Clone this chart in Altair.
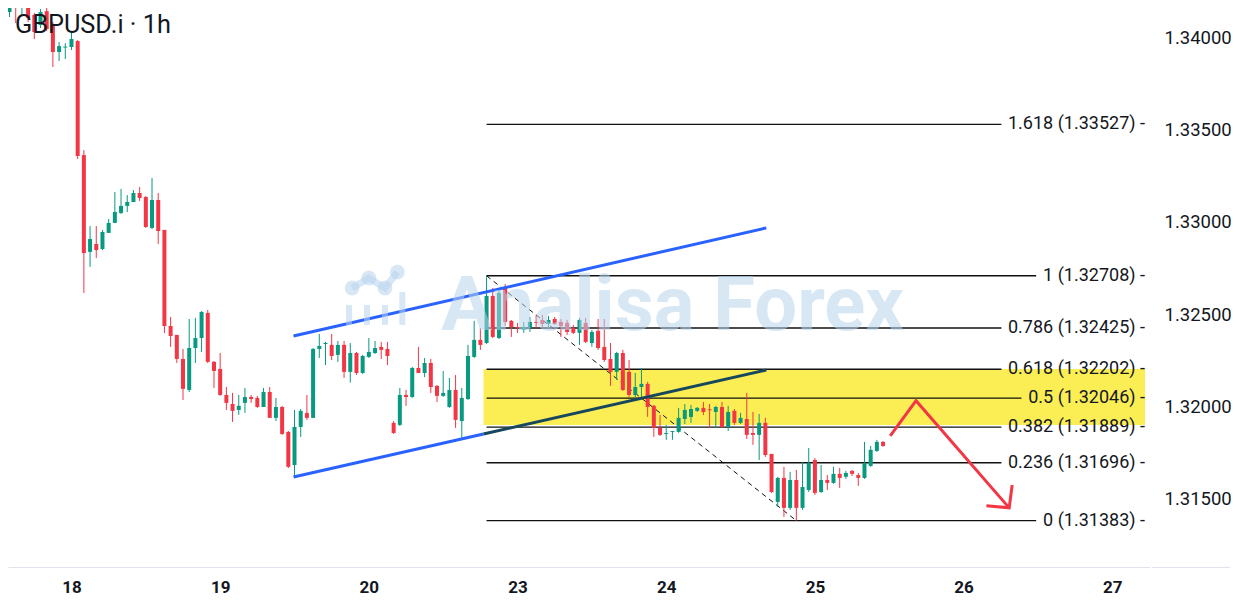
import altair as alt
import pandas as pd
import numpy as np

# ---------------- data ----------------
hours = list(range(-10, 132))  # hourly bar index, 0 = 18th 00:00 (weekend skipped)
opens = [1.34135, 1.34200, 1.34162, 1.34162, 1.34119, 1.34065, 1.34140, 1.34065, 1.33919, 1.33943,
         1.33946, 1.33978, 1.33361, 1.32837, 1.32880, 1.32853, 1.32940, 1.32994, 1.33048, 1.33086,
         1.33107, 1.33156, 1.33134, 1.32967, 1.33118, 1.32956, 1.32436, 1.32388, 1.32258, 1.32090,
         1.32317, 1.32371, 1.32507, 1.32242, 1.32204, 1.32063, 1.32014, 1.31982, 1.32020, 1.32052,
         1.32047, 1.31998, 1.32079, 1.31939, 1.31998, 1.31863, 1.31684, 1.31890, 1.31966, 1.31939,
         1.32312, 1.32339, 1.32334, 1.32280, 1.32334, 1.32188, 1.32290, 1.32182, 1.32269, 1.32290,
         1.32323, 1.32312, 1.31912, 1.31901, 1.32063, 1.32052, 1.32209, 1.32182, 1.32236, 1.32112,
         1.32058, 1.31998, 1.32090, 1.31922, 1.32041, 1.32269, 1.32361, 1.32344, 1.32599, 1.32371,
         1.32642, 1.32464, 1.32431, 1.32415, 1.32426, 1.32458, 1.32469, 1.32447, 1.32474, 1.32458,
         1.32453, 1.32426, 1.32399, 1.32453, 1.32344, 1.32410, 1.32323, 1.32258, 1.32188, 1.32290,
         1.32188, 1.32063, 1.32106, 1.32123, 1.32004, 1.31885, 1.31852, 1.31863, 1.31863, 1.31933,
         1.31944, 1.31977, 1.31993, 1.31985, 1.31971, 1.31998, 1.31890, 1.31977, 1.31912, 1.31933,
         1.31857, 1.31847, 1.31912, 1.31744, 1.31484, 1.31614, 1.31452, 1.31603, 1.31452, 1.31549,
         1.31711, 1.31538, 1.31603, 1.31587, 1.31636, 1.31620, 1.31652, 1.31630, 1.31614, 1.31679,
         1.31760, 1.31809]
highs = [1.34210, 1.34210, 1.34173, 1.34173, 1.34130, 1.34151, 1.34168, 1.34081, 1.33973, 1.33967,
         1.34027, 1.33984, 1.33388, 1.32977, 1.32977, 1.32956, 1.33015, 1.33161, 1.33178, 1.33145,
         1.33172, 1.33188, 1.33140, 1.33237, 1.33156, 1.32956, 1.32485, 1.32388, 1.32312, 1.32474,
         1.32480, 1.32517, 1.32523, 1.32247, 1.32290, 1.32106, 1.32074, 1.32063, 1.32101, 1.32063,
         1.32058, 1.32101, 1.32106, 1.32047, 1.32004, 1.31868, 1.31982, 1.31987, 1.32063, 1.32317,
         1.32393, 1.32350, 1.32393, 1.32355, 1.32355, 1.32344, 1.32296, 1.32280, 1.32371, 1.32355,
         1.32350, 1.32350, 1.31922, 1.32101, 1.32090, 1.32215, 1.32323, 1.32263, 1.32258, 1.32117,
         1.32193, 1.32155, 1.32171, 1.32101, 1.32334, 1.32464, 1.32426, 1.32708, 1.32642, 1.32642,
         1.32664, 1.32469, 1.32453, 1.32458, 1.32485, 1.32496, 1.32496, 1.32491, 1.32485, 1.32474,
         1.32469, 1.32442, 1.32480, 1.32480, 1.32415, 1.32474, 1.32474, 1.32344, 1.32296, 1.32307,
         1.32252, 1.32182, 1.32209, 1.32134, 1.32009, 1.31955, 1.31901, 1.31868, 1.31993, 1.32014,
         1.32009, 1.31998, 1.32025, 1.32014, 1.32004, 1.32025, 1.32004, 1.31987, 1.31966, 1.32074,
         1.31971, 1.31960, 1.31939, 1.31744, 1.31620, 1.31674, 1.31647, 1.31657, 1.31701, 1.31776,
         1.31722, 1.31684, 1.31630, 1.31674, 1.31668, 1.31652, 1.31657, 1.31641, 1.31809, 1.31787,
         1.31820, 1.31814]
lows = [1.34108, 1.34076, 1.34119, 1.34081, 1.33989, 1.34049, 1.34032, 1.33838, 1.33870, 1.33881,
        1.33930, 1.33340, 1.32615, 1.32756, 1.32804, 1.32847, 1.32940, 1.32994, 1.33042, 1.33053,
        1.33107, 1.33113, 1.32967, 1.32961, 1.32880, 1.32398, 1.32323, 1.32236, 1.32036, 1.32079,
        1.32236, 1.32296, 1.32236, 1.32101, 1.32058, 1.31982, 1.31917, 1.31955, 1.31966, 1.32020,
        1.31993, 1.31998, 1.31939, 1.31922, 1.31847, 1.31668, 1.31620, 1.31836, 1.31928, 1.31939,
        1.32263, 1.32225, 1.32252, 1.32242, 1.32155, 1.32130, 1.32171, 1.32177, 1.32263, 1.32285,
        1.32258, 1.32225, 1.31852, 1.31895, 1.32004, 1.32047, 1.32182, 1.32160, 1.32074, 1.32025,
        1.32052, 1.31993, 1.31885, 1.31831, 1.32036, 1.32263, 1.32307, 1.32339, 1.32371, 1.32366,
        1.32436, 1.32377, 1.32399, 1.32399, 1.32404, 1.32426, 1.32431, 1.32431, 1.32442, 1.32377,
        1.32388, 1.32393, 1.32334, 1.32344, 1.32323, 1.32307, 1.32242, 1.32112, 1.32144, 1.32085,
        1.32052, 1.32052, 1.32052, 1.31944, 1.31836, 1.31841, 1.31820, 1.31820, 1.31858, 1.31906,
        1.31912, 1.31971, 1.31955, 1.31885, 1.31885, 1.31885, 1.31868, 1.31901, 1.31906, 1.31825,
        1.31793, 1.31711, 1.31728, 1.31533, 1.31457, 1.31403, 1.31441, 1.31383, 1.31441, 1.31538,
        1.31522, 1.31533, 1.31549, 1.31582, 1.31560, 1.31609, 1.31625, 1.31571, 1.31609, 1.31674,
        1.31755, 1.31782]
closes = [1.34200, 1.34178, 1.34168, 1.34103, 1.34027, 1.34135, 1.34043, 1.33919, 1.33951, 1.33948,
          1.33989, 1.33356, 1.32831, 1.32907, 1.32847, 1.32945, 1.32994, 1.33053, 1.33086, 1.33107,
          1.33156, 1.33129, 1.32972, 1.33118, 1.32950, 1.32436, 1.32382, 1.32258, 1.32096, 1.32317,
          1.32371, 1.32512, 1.32242, 1.32193, 1.32063, 1.32020, 1.31977, 1.32004, 1.32052, 1.32041,
          1.31998, 1.32079, 1.31939, 1.31998, 1.31852, 1.31674, 1.31890, 1.31977, 1.31939, 1.32312,
          1.32328, 1.32344, 1.32274, 1.32334, 1.32188, 1.32290, 1.32182, 1.32274, 1.32296, 1.32317,
          1.32307, 1.32274, 1.31857, 1.32063, 1.32052, 1.32209, 1.32182, 1.32236, 1.32106, 1.32058,
          1.32074, 1.32090, 1.31928, 1.32047, 1.32274, 1.32361, 1.32334, 1.32599, 1.32377, 1.32615,
          1.32458, 1.32431, 1.32426, 1.32431, 1.32458, 1.32453, 1.32447, 1.32469, 1.32447, 1.32436,
          1.32404, 1.32399, 1.32469, 1.32350, 1.32404, 1.32317, 1.32252, 1.32188, 1.32290, 1.32090,
          1.32063, 1.32106, 1.32123, 1.31998, 1.31885, 1.31847, 1.31857, 1.31868, 1.31939, 1.31982,
          1.31987, 1.31993, 1.31971, 1.31980, 1.31998, 1.31890, 1.31971, 1.31912, 1.31939, 1.31847,
          1.31847, 1.31912, 1.31738, 1.31538, 1.31614, 1.31452, 1.31603, 1.31452, 1.31565, 1.31695,
          1.31533, 1.31603, 1.31587, 1.31636, 1.31614, 1.31641, 1.31636, 1.31614, 1.31695, 1.31766,
          1.31809, 1.31787]

day_pos = [0, 24, 48, 72, 96, 120, 144, 168]
day_labels = ["18", "19", "20", "23", "24", "25", "26", "27"]
price_ticks = [1.315, 1.320, 1.325, 1.330, 1.335, 1.340]

fib_ratios = ["0", "0.236", "0.382", "0.5", "0.618", "0.786", "1", "1.618"]
fib_prices = [1.31383, 1.31696, 1.31889, 1.32046, 1.32202, 1.32425, 1.32708, 1.33527]
fib_start = 67
fib_diag_x = [67, 117]
fib_diag_y = [1.32708, 1.31383]

zone_start = 66.5
zone_top = 1.32203
zone_bottom = 1.31900

upper_channel_x = [35.84, 112.16]
upper_channel_y = [1.32382, 1.32967]
lower_channel_x = [35.84, 112.16]
lower_channel_y = [1.31619, 1.32198]

arrow_x = [132.16, 136.32, 151.36]
arrow_y = [1.31841, 1.32032, 1.31452]
arrow_head_x = [147.68, 151.36, 151.84]
arrow_head_y = [1.31463, 1.31452, 1.31576]

watermark_text = "Analisa Forex"
watermark_x = 59.7
watermark_y = 1.32415
logo_bar_x = [44.8, 47.7, 50.6, 53.4]
logo_bar_top = [1.32550, 1.32550, 1.32550, 1.32620]
logo_bar_bottom = 1.32442
logo_node_x = [45.3, 48.0, 50.6, 52.6]
logo_node_y = [1.32642, 1.32696, 1.32642, 1.32728]

title_text = "GBPUSD.i \u00b7 1h"

# ---------------- layout ----------------
X_MIN, X_MAX = -9.44, 173.28
Y_MIN, Y_MAX = 1.31132, 1.34157
PLOT_W, PLOT_H = 1142, 559
PX_PER_BAR = PLOT_W / (X_MAX - X_MIN)
FONT = "Roboto"
INK = "#131722"
UP, DOWN = "#089981", "#f23645"
BORDER = "#e0e3eb"

xs = alt.Scale(domain=[X_MIN, X_MAX], nice=False, zero=False)
ys = alt.Scale(domain=[Y_MIN, Y_MAX], nice=False, zero=False)

label_expr = "".join(f"datum.value == {p} ? '{l}' : " for p, l in zip(day_pos, day_labels)) + "''"
x_axis = alt.Axis(values=day_pos, labelExpr=label_expr, title=None, grid=False, ticks=False,
                  domainColor=BORDER, domainWidth=1, labelFontSize=17,
                  labelFontWeight="bold", labelColor=INK, labelFont=FONT, labelPadding=12,
                  labelFlush=False)
y_axis = alt.Axis(orient="right", values=price_ticks, format=".5f", title=None, grid=False,
                  ticks=False, domain=False, labelFontSize=18.5, labelColor=INK,
                  labelFont=FONT, labelPadding=14)


def X(f):
    return alt.X(f, type="quantitative", scale=xs, axis=x_axis)


def Y(f):
    return alt.Y(f, type="quantitative", scale=ys, axis=y_axis)


# candles
df = pd.DataFrame(dict(t=hours, o=opens, h=highs, l=lows, c=closes))
df["dir"] = np.where(df.c >= df.o, "up", "down")
b0 = np.minimum(df.o, df.c)
b1 = np.maximum(df.o, df.c)
mid = (b0 + b1) / 2
small = (b1 - b0) < 0.00005
df["b0"] = np.where(small, mid - 0.000027, b0)
df["b1"] = np.where(small, mid + 0.000027, b1)
color = alt.Color("dir:N", scale=alt.Scale(domain=["up", "down"], range=[UP, DOWN]), legend=None)

wicks = alt.Chart(df).mark_rule(strokeWidth=1, clip=True).encode(
    x=X("t"), y=Y("l"), y2="h:Q", color=color)
bodies = alt.Chart(df).mark_bar(size=4, clip=True).encode(
    x=X("t"), y=Y("b0"), y2="b1:Q", color=color)

# yellow zone
zone_df = pd.DataFrame(dict(x0=[zone_start], x1=[X_MAX], y0=[zone_bottom], y1=[zone_top]))
zone = alt.Chart(zone_df).mark_rect(color="#fbee55", clip=True).encode(
    x=X("x0"), x2="x1:Q", y=Y("y0"), y2="y1:Q")


# fib levels
def text_w(s, size=18):
    w = {".": 0.263, " ": 0.248, "(": 0.342, ")": 0.348, "-": 0.276}
    return sum(w.get(ch, 0.5615) for ch in s) * size


fib_labels = [f"{r} ({p:.5f}) -" for r, p in zip(fib_ratios, fib_prices)]
fib_df = pd.DataFrame(dict(
    y=fib_prices, label=fib_labels, x0=fib_start,
    x1=[X_MAX - (text_w(s) + 8) / PX_PER_BAR for s in fib_labels],
    xt=X_MAX,
))
fib_lines = alt.Chart(fib_df).mark_rule(color="#111111", strokeWidth=1.4).encode(
    x=X("x0"), x2="x1:Q", y=Y("y"))
fib_text = alt.Chart(fib_df).mark_text(align="right", baseline="middle", fontSize=18,
                                       font=FONT, color=INK).encode(
    x=X("xt"), y=Y("y"), text="label:N")
diag_df = pd.DataFrame(dict(x=fib_diag_x, y=fib_diag_y))
fib_diag = alt.Chart(diag_df).mark_line(color="#111111", strokeWidth=1, strokeDash=[5, 4]).encode(
    x=X("x"), y=Y("y"))

# channel lines (lower one darkened where it runs inside the yellow zone)
t_split = (zone_start - lower_channel_x[0]) / (lower_channel_x[1] - lower_channel_x[0])
y_split = lower_channel_y[0] + t_split * (lower_channel_y[1] - lower_channel_y[0])
blue_df = pd.DataFrame(dict(
    x=[upper_channel_x[0], upper_channel_x[1], lower_channel_x[0], zone_start],
    y=[upper_channel_y[0], upper_channel_y[1], lower_channel_y[0], y_split],
    seg=["upper", "upper", "lower", "lower"], k=[0, 1, 0, 1],
))
dark_df = pd.DataFrame(dict(x=[zone_start, lower_channel_x[1]], y=[y_split, lower_channel_y[1]], k=[0, 1]))
chan_blue = alt.Chart(blue_df).mark_line(strokeWidth=3, color="#2962ff").encode(
    x=X("x"), y=Y("y"), detail="seg:N", order="k:Q")
chan_dark = alt.Chart(dark_df).mark_line(strokeWidth=3, color="#16475d").encode(
    x=X("x"), y=Y("y"), order="k:Q")

# watermark
WM = "#b8d4ec"
wm_df = pd.DataFrame(dict(x=[watermark_x], y=[watermark_y], s=[watermark_text]))
wm_text = alt.Chart(wm_df).mark_text(align="left", baseline="alphabetic", fontSize=76,
                                     fontWeight="bold", font=FONT, color=WM, opacity=0.55).encode(
    x=X("x"), y=Y("y"), text="s:N")
logo_bars_df = pd.DataFrame(dict(x=logo_bar_x, top=logo_bar_top, bottom=logo_bar_bottom))
logo_bars = alt.Chart(logo_bars_df).mark_bar(size=6, color=WM, opacity=0.55).encode(
    x=X("x"), y=Y("bottom"), y2="top:Q")
logo_nodes_df = pd.DataFrame(dict(x=logo_node_x, y=logo_node_y, k=list(range(len(logo_node_x)))))
logo_line = alt.Chart(logo_nodes_df).mark_line(strokeWidth=7, color=WM, opacity=0.55).encode(
    x=X("x"), y=Y("y"), order="k:Q")
logo_dots = alt.Chart(logo_nodes_df).mark_circle(size=220, color=WM, opacity=0.55).encode(
    x=X("x"), y=Y("y"))

# arrow
arr_df = pd.DataFrame(dict(
    x=arrow_x + arrow_head_x, y=arrow_y + arrow_head_y,
    part=["body"] * len(arrow_x) + ["head"] * len(arrow_head_x),
    k=list(range(len(arrow_x))) + list(range(len(arrow_head_x))),
))
arrow = alt.Chart(arr_df).mark_line(color="#f23645", strokeWidth=3).encode(
    x=X("x"), y=Y("y"), detail="part:N", order="k:Q")

# title (caption inside the plot, top-left) and bottom border under the price scale
one = pd.DataFrame(dict(s=[title_text]))
title = alt.Chart(one).mark_text(align="left", baseline="alphabetic", fontSize=25.3, font=FONT,
                                 color=INK).encode(
    x=alt.value(7), y=alt.value(24.5), text="s:N")
border = alt.Chart(one).mark_rule(color=BORDER, strokeWidth=1, clip=False).encode(
    x=alt.value(PLOT_W + 2), x2=alt.value(PLOT_W + 80), y=alt.value(PLOT_H + 0.5))

chart = alt.layer(
    zone, fib_lines, fib_diag, wicks, bodies, chan_blue, chan_dark,
    logo_line, logo_dots, logo_bars, wm_text,
    arrow, fib_text, title, border,
).properties(
    width=PLOT_W, height=PLOT_H,
    padding={"left": 0, "top": 0, "right": 0, "bottom": 0},
    background="white",
).configure_view(stroke=None)

chart.save("out.html", embed_options={"renderer": "svg", "actions": False})
